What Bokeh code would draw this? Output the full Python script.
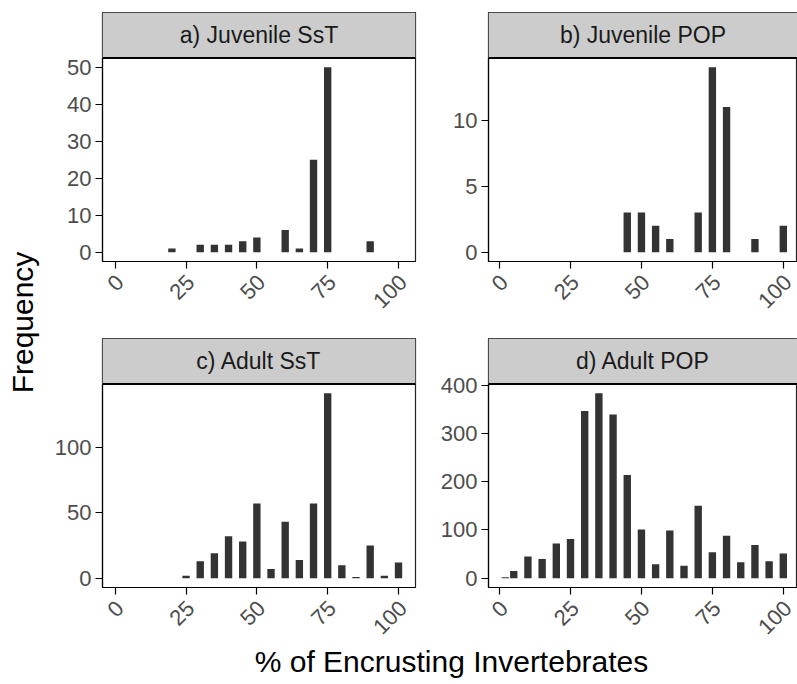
import math
from bokeh.plotting import figure
from bokeh.layouts import row, column
from bokeh.models import Range1d, FixedTicker, Span, LinearAxis
from bokeh.core.properties import value
from bokeh.embed import file_html
from bokeh.resources import INLINE

# ---------------- data ----------------
x_ticks = [0, 25, 50, 75, 100]

pct_a = [20, 30, 35, 40, 45, 50, 60, 65, 70, 75, 90]
freq_a = [1, 2, 2, 2, 3, 4, 6, 1, 25, 50, 3]
yticks_a = [0, 10, 20, 30, 40, 50]

pct_b = [45, 50, 55, 60, 70, 75, 80, 90, 100]
freq_b = [3, 3, 2, 1, 3, 14, 11, 1, 2]
yticks_b = [0, 5, 10]

pct_c = [25, 30, 35, 40, 45, 50, 55, 60, 65, 70, 75, 80, 85, 90, 95, 100]
freq_c = [2, 13, 19, 32, 28, 57, 7, 43, 14, 57, 141, 10, 1, 25, 2, 12]
yticks_c = [0, 50, 100]

pct_d = [2, 5, 10, 15, 20, 25, 30, 35, 40, 45, 50, 55, 60, 65, 70, 75, 80, 85, 90, 95, 100]
freq_d = [2, 15, 45, 40, 72, 81, 346, 383, 339, 214, 101, 29, 99, 26, 150, 54, 88, 33, 69, 35, 51]
yticks_d = [0, 100, 200, 300, 400]

titles = ["a) Juvenile SsT", "b) Juvenile POP", "c) Adult SsT", "d) Adult POP"]
x_title = "% of Encrusting Invertebrates"
y_title = "Frequency"

FONT = "Liberation Sans"
BAR = "#333333"
TICKCOL = "#4d4d4d"
STRIP = "#cccccc"

# geometry (pixels)
LEFT_W, LEFT_MBL, LEFT_MBR = 385, 57, 15
RIGHT_W, RIGHT_MBL, RIGHT_MBR = 367, 58, 0
DATA_H, STRIP_H = 203.5, 45.5
FRAME_H = 249
ROW1_TOP, ROW1_BOT = 12, 76
ROW2_TOP, ROW2_BOT = 1, 70
XT_OVERLAP = 30
TOTAL_H = 684
LABEL_SHIFT_PX = 4.5


def ylim(vals):
    m = max(vals)
    return -0.05 * m, 1.05 * m


def panel(xs, ys, yticks, xr, title, width, mbl, mbr, mbt, mbb):
    lo, hi = ylim(ys)
    strip_top = hi + (hi - lo) * STRIP_H / DATA_H
    frame_w = width - mbl - mbr
    shift = LABEL_SHIFT_PX * (xr[1] - xr[0]) / frame_w
    p = figure(width=width, height=mbt + FRAME_H + mbb,
               x_range=Range1d(*xr), y_range=Range1d(lo, strip_top),
               min_border_left=mbl, min_border_right=mbr, min_border_top=mbt, min_border_bottom=mbb,
               toolbar_location=None, output_backend="svg",
               background_fill_color="white", border_fill_color=None,
               outline_line_color="#222222", outline_line_width=1.2)
    # facet strip
    p.quad(left=[xr[0]], right=[xr[1]], bottom=[hi], top=[strip_top],
           fill_color=STRIP, line_color=None)
    p.add_layout(Span(location=hi, dimension="width", line_color="black", line_width=2.2))
    p.text(x=[(xr[0] + xr[1]) / 2], y=[(hi + strip_top) / 2], text=[title],
           text_align="center", text_baseline="middle",
           text_font=value(FONT), text_font_size="23px", text_color="#1a1a1a")
    # bars
    p.vbar(x=xs, top=ys, bottom=0, width=2.6, fill_color=BAR, line_color=None)

    p.xgrid.grid_line_color = None
    p.ygrid.grid_line_color = None
    p.xaxis.ticker = FixedTicker(ticks=x_ticks)
    p.yaxis.ticker = FixedTicker(ticks=yticks)
    p.yaxis.bounds = (lo, hi)
    for ax in (p.xaxis[0], p.yaxis[0]):
        ax.axis_line_color = "black"
        ax.axis_line_width = 1.2
        ax.major_tick_line_color = "black"
        ax.major_tick_line_width = 1.2
        ax.major_tick_in = 0
        ax.major_tick_out = 7
        ax.minor_tick_line_color = None
        ax.major_label_text_font = FONT
        ax.major_label_text_font_size = "22px"
        ax.major_label_text_color = TICKCOL
    p.yaxis.major_label_standoff = 4
    # tick marks only on the main x axis; labels on a second axis nudged right
    p.xaxis[0].major_label_text_color = None
    p.xaxis[0].major_label_standoff = 0
    p.extra_x_ranges = {"lab": Range1d(xr[0] - shift, xr[1] - shift)}
    lab = LinearAxis(x_range_name="lab", ticker=FixedTicker(ticks=x_ticks),
                     axis_line_color=None, major_tick_line_color=None,
                     major_tick_in=0, major_tick_out=0, minor_tick_line_color=None,
                     major_label_standoff=10, major_label_orientation=math.pi / 4,
                     major_label_text_font=FONT, major_label_text_font_size="22px",
                     major_label_text_color=TICKCOL)
    p.add_layout(lab, "below")
    return p


pa = panel(pct_a, freq_a, yticks_a, (-4.5, 106), titles[0], LEFT_W, LEFT_MBL, LEFT_MBR, ROW1_TOP, ROW1_BOT)
pb = panel(pct_b, freq_b, yticks_b, (-3.9, 105), titles[1], RIGHT_W, RIGHT_MBL, RIGHT_MBR, ROW1_TOP, ROW1_BOT)
pc = panel(pct_c, freq_c, yticks_c, (-4.5, 106), titles[2], LEFT_W, LEFT_MBL, LEFT_MBR, ROW2_TOP, ROW2_BOT)
pd = panel(pct_d, freq_d, yticks_d, (-3.9, 105), titles[3], RIGHT_W, RIGHT_MBL, RIGHT_MBR, ROW2_TOP, ROW2_BOT)

grid_h = ROW1_TOP + FRAME_H + ROW1_BOT + ROW2_TOP + FRAME_H + ROW2_BOT
xt_top = grid_h - XT_OVERLAP
xt_h = TOTAL_H - xt_top

yfig = figure(width=45, height=grid_h, x_range=Range1d(0, 45), y_range=Range1d(0, grid_h),
              min_border=0, x_axis_type=None, y_axis_type=None, outline_line_color=None,
              background_fill_color=None, border_fill_color=None,
              toolbar_location=None, output_backend="svg")
yfig.text(x=[22], y=[grid_h - 322], text=[y_title], angle=math.pi / 2, text_align="center",
          text_baseline="middle", text_font=value(FONT), text_font_size="30px", text_color="black")

xt = figure(width=797, height=xt_h, x_range=Range1d(0, 797), y_range=Range1d(0, xt_h),
            min_border=0, x_axis_type=None, y_axis_type=None, outline_line_color=None,
            background_fill_color=None, border_fill_color=None,
            toolbar_location=None, output_backend="svg")
xt.margin = (-XT_OVERLAP, 0, 0, 0)
xt.text(x=[451], y=[xt_h - (661 - xt_top)], text=[x_title], text_align="center", text_baseline="middle",
        text_font=value(FONT), text_font_size="30px", text_color="black")

grid = column(row(pa, pb), row(pc, pd))
layout = column(row(yfig, grid), xt)

open("out.html", "w").write(file_html(layout, INLINE))
